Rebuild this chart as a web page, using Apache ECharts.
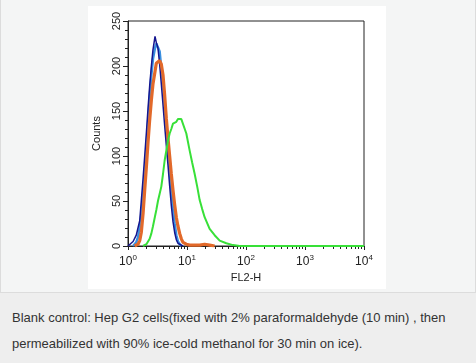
<!DOCTYPE html>
<html>
<head>
<meta charset="utf-8">
<script src="https://cdn.jsdelivr.net/npm/echarts@6/dist/echarts.min.js"></script>
<style>
html,body{margin:0;padding:0;width:476px;height:363px;overflow:hidden;background:#eeeeee;font-family:"Liberation Sans",Arial,sans-serif;}
#panel{position:absolute;left:0;top:0;width:474px;height:292px;background:#f4f5f5;border:1px solid #dcdcdc;border-top:none;}
#chart{position:absolute;left:88px;top:6px;width:298px;height:283px;background:#ffffff;}
#caption{position:absolute;left:12px;top:305px;width:460px;font-size:13px;line-height:26px;color:#333;}
</style>
</head>
<body>
<div id="panel"></div>
<div id="chart"></div>
<div id="caption">Blank control: Hep G2 cells(fixed with 2% paraformaldehyde (10 min) , then<br>permeabilized with 90% ice-cold methanol for 30 min on ice).</div>
<script>
// ---- data ----
const xTicksMajor = [1, 10, 100, 1000, 10000];
const xTicksMinor = [2,3,4,5,6,7,8,9,20,30,40,50,60,70,80,90,200,300,400,500,600,700,800,900,2000,3000,4000,5000,6000,7000,8000,9000];
const yTicks = [0, 50, 100, 150, 200, 250];

const navyX  = [1, 1.07, 1.22, 1.38, 1.58, 1.68, 1.8, 1.92, 2.05, 2.18, 2.33, 2.49, 2.65, 2.87, 3.02, 3.22, 3.44, 3.67, 3.92, 4.18, 4.46, 4.76, 5.08, 5.42, 5.79, 6.18, 6.59, 7.03, 7.51, 8.55];
const navyY  = [0, 2, 5, 12, 28, 50, 75, 100, 126, 152, 178, 200, 218, 233, 226, 220, 202, 180, 157, 134, 112, 90, 67, 45, 27, 15, 7, 3, 1, 0];

const blueX  = [1.22, 1.38, 1.48, 1.58, 1.68, 1.8, 1.92, 2.05, 2.18, 2.33, 2.49, 2.65, 2.87, 3.02, 3.22, 3.44, 3.67, 3.92, 4.18, 4.46, 4.76, 5.08, 5.42, 5.79, 6.18, 6.59, 7.03, 7.51, 8.01];
const blueY  = [0, 4, 10, 20, 35, 55, 80, 108, 136, 165, 190, 208, 220, 225, 227, 216, 197, 177, 153, 130, 107, 85, 62, 42, 25, 12, 5, 2, 0];

const orangeX = [1.3, 1.48, 1.58, 1.68, 1.8, 1.92, 2.05, 2.18, 2.33, 2.49, 2.65, 2.87, 3.02, 3.22, 3.44, 3.58, 3.67, 3.92, 4.18, 4.46, 4.76, 5.08, 5.42, 5.79, 6.18, 6.59, 7.03, 7.51, 8.01, 8.55, 9.74, 11.1, 13.5, 16.4, 19.9, 24.2, 29.4];
const orangeY = [0, 2, 6, 15, 36, 62, 88, 114, 140, 162, 180, 194, 203, 205, 206, 206, 202, 190, 168, 142, 120, 100, 80, 62, 46, 32, 22, 14, 8, 4, 2, 1, 1, 1, 2, 1, 0];

const greenX = [1.8, 2.05, 2.33, 2.49, 2.65, 2.87, 3.02, 3.22, 3.44, 3.67, 3.92, 4.18, 4.46, 4.76, 5.08, 5.42, 5.79, 6.18, 6.59, 7.03, 7.51, 8.01, 8.55, 9.74, 11.1, 12.2, 13.5, 14.9, 16.4, 18.1, 19.9, 24.2, 29.4, 35.8, 46.4, 60.2, 78.1, 10000];
const greenY = [0, 2, 8, 14, 22, 33, 40, 50, 58, 66, 80, 95, 106, 117, 125, 130, 136, 137, 138, 141, 143, 141, 140, 125, 106, 93, 80, 66, 51, 41, 32, 19, 12, 6, 3, 1, 0, 0];

function pairs(xs, ys){ return xs.map((x,i)=>[x, ys[i]]); }

const chart = echarts.init(document.getElementById('chart'), null, {renderer:'canvas'});
const lineSeries = (name, xs, ys, color, width) => ({
  name, type:'line', data: pairs(xs, ys), showSymbol:false, symbol:'none',
  lineStyle:{color, width}, xAxisIndex:0, yAxisIndex:0, z: 3
});
chart.setOption({
  animation:false,
  backgroundColor:'#ffffff',
  grid:{left:40, right:22, top:15, bottom:43, show:true, borderColor:'#222', borderWidth:1, backgroundColor:'transparent',
        containLabel:false, outerBoundsMode:'none'},
  xAxis:[{
    type:'log', logBase:10, min:1, max:10000,
    name:'FL2-H', nameLocation:'middle', nameGap:24,
    nameTextStyle:{fontSize:11, color:'#222', fontFamily:'Liberation Sans'},
    axisLine:{lineStyle:{color:'#222', width:1}},
    axisTick:{show:true, length:4, lineStyle:{color:'#222'}, customValues: xTicksMajor},
    axisLabel:{
      customValues: xTicksMajor,
      margin:8, color:'#222', fontFamily:'Liberation Sans',
      formatter: v => '{b|10}{s|' + Math.round(Math.log10(v)) + '}',
      rich:{ b:{fontSize:12, color:'#222', fontFamily:'Liberation Sans'},
             s:{fontSize:8, color:'#222', fontFamily:'Liberation Sans', padding:[0,0,7,0]} }
    },
    splitLine:{show:false}
  },{
    type:'log', logBase:10, min:1, max:10000, position:'bottom',
    axisLine:{show:false},
    axisTick:{show:true, length:3, lineStyle:{color:'#222'}, customValues: xTicksMinor},
    axisLabel:{show:false},
    splitLine:{show:false}
  }],
  yAxis:{
    type:'value', min:0, max:250, interval:50,
    name:'Counts', nameLocation:'middle', nameGap:26, nameRotate:90,
    nameTextStyle:{fontSize:11, color:'#222', fontFamily:'Liberation Sans'},
    axisLine:{show:true, lineStyle:{color:'#222'}},
    axisTick:{show:true, length:5, lineStyle:{color:'#222'}},
    minorTick:{show:true, splitNumber:5, length:3, lineStyle:{color:'#222'}},
    axisLabel:{rotate:90, margin:6, fontSize:11, color:'#222', fontFamily:'Liberation Sans',
      formatter: v => String(v)},
    splitLine:{show:false}
  },
  series:[
    lineSeries('blue', blueX, blueY, '#3a8fe0', 2.5),
    lineSeries('navy', navyX, navyY, '#14158f', 1.5),
    lineSeries('orange', orangeX, orangeY, '#e2692a', 3.2),
    lineSeries('green', greenX, greenY, '#38e038', 2)
  ]
});
</script>
</body>
</html>
